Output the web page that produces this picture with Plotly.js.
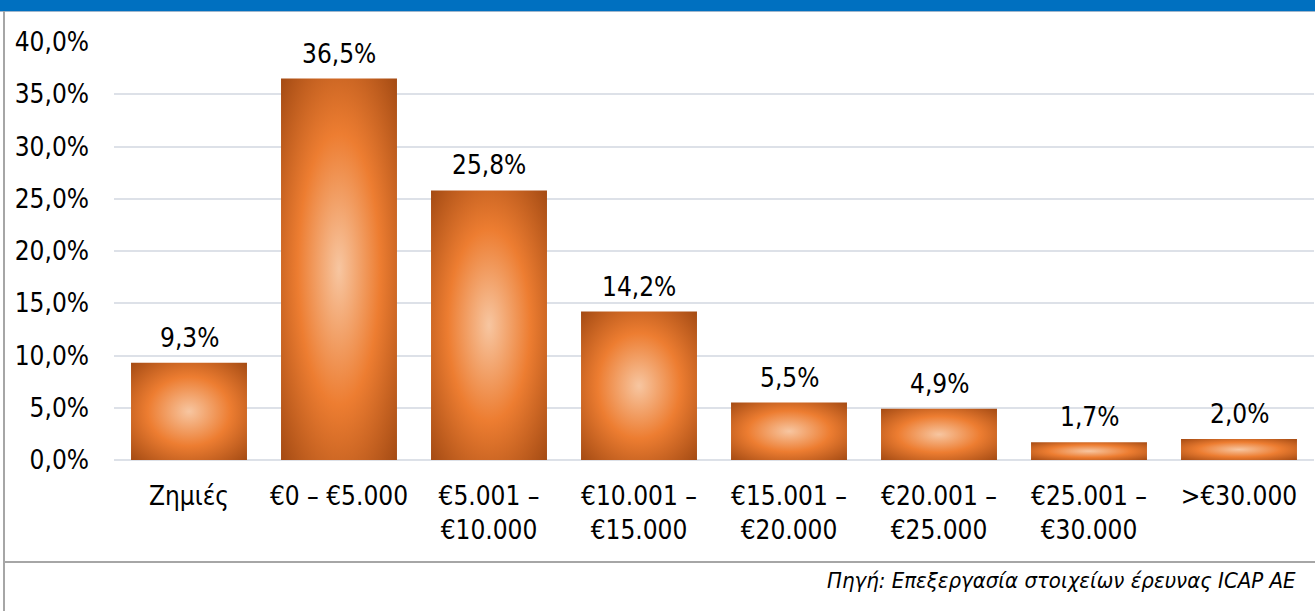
<!DOCTYPE html>
<html>
<head>
<meta charset="utf-8">
<script src="https://cdn.plot.ly/plotly-3.0.1.min.js"></script>
<style>
  html, body { margin: 0; padding: 0; background: #fff; }
  #wrap { position: relative; width: 1315px; height: 611px; overflow: hidden; }
  #chart { position: absolute; left: 0; top: 0; width: 1315px; height: 611px; }
  .deco { position: absolute; pointer-events: none; }
</style>
</head>
<body>
<div id="wrap">
  <div id="chart"></div>
  <div class="deco" style="left:0;top:0;width:1315px;height:11px;background:#0070C0;"></div>
  <div class="deco" style="left:0;top:11px;width:1315px;height:1px;background:#9FB6CC;"></div>
  <div class="deco" style="left:3px;top:11px;width:2px;height:600px;background:#A6A6A6;"></div>
  <div class="deco" style="left:3px;top:561px;width:1312px;height:2px;background:#A6A6A6;"></div>
</div>
<script>
// income bands (Greek labels as in the source)
var categories = [
  'Ζημιές',
  '€0 – €5.000',
  '€5.001 –<br>€10.000',
  '€10.001 –<br>€15.000',
  '€15.001 –<br>€20.000',
  '€20.001 –<br>€25.000',
  '€25.001 –<br>€30.000',
  '>€30.000'
];
var shares = [9.3, 36.5, 25.8, 14.2, 5.5, 4.9, 1.7, 2.0];
var yTicks = [0, 5, 10, 15, 20, 25, 30, 35, 40];
var yTickText = ['0,0%', '5,0%', '10,0%', '15,0%', '20,0%', '25,0%', '30,0%', '35,0%', '40,0%'];
var sourceNote = 'Πηγή: Επεξεργασία στοιχείων έρευνας ICAP AE';

var fontFamily = '"DejaVu Sans Condensed", "Noto Sans", "DejaVu Sans", sans-serif';

var labels = categories.map(function (c, i) {
  return {
    x: c,
    y: shares[i],
    xref: 'x',
    yref: 'y',
    text: shares[i].toFixed(1).replace('.', ',') + '%',
    showarrow: false,
    yanchor: 'bottom',
    yshift: 8,
    font: {family: fontFamily, size: 26, color: '#000'}
  };
});

labels.push({
  xref: 'paper',
  yref: 'paper',
  x: 0.9867,
  y: -0.288,
  xanchor: 'right',
  yanchor: 'middle',
  text: sourceNote,
  showarrow: false,
  font: {family: fontFamily, size: 22, color: '#000', style: 'italic'}
});

var data = [{
  type: 'bar',
  x: categories,
  y: shares,
  marker: {color: '#ED7D31', line: {width: 0}},
  hoverinfo: 'none'
}];

var layout = {
  width: 1315,
  height: 611,
  margin: {l: 114, r: 1, t: 42, b: 151, pad: 0},
  paper_bgcolor: 'rgba(0,0,0,0)',
  plot_bgcolor: 'rgba(0,0,0,0)',
  bargap: 0.227,
  showlegend: false,
  font: {family: fontFamily, size: 26, color: '#000'},
  xaxis: {
    type: 'category',
    showgrid: false,
    showline: false,
    zeroline: false,
    ticks: '',
    ticklabelstandoff: 18,
    tickfont: {family: fontFamily, size: 26, color: '#000'}
  },
  yaxis: {
    range: [0, 40],
    tickvals: yTicks,
    ticktext: yTickText,
    showgrid: true,
    gridcolor: '#DDE1E8',
    gridwidth: 2,
    zeroline: true,
    zerolinecolor: '#DDE1E8',
    zerolinewidth: 2,
    showline: false,
    ticks: '',
    ticklabelstandoff: 24,
    tickfont: {family: fontFamily, size: 26, color: '#000'}
  },
  annotations: labels
};

Plotly.newPlot('chart', data, layout, {staticPlot: true, displayModeBar: false}).then(function (gd) {
  // Excel-style radial fill: light centre, orange middle, dark corners
  var svg = gd.querySelector('svg.main-svg');
  var ns = 'http://www.w3.org/2000/svg';
  var defs = svg.querySelector('defs') || svg.insertBefore(document.createElementNS(ns, 'defs'), svg.firstChild);
  var grad = document.createElementNS(ns, 'radialGradient');
  grad.setAttribute('id', 'barGrad');
  grad.setAttribute('cx', '0.5');
  grad.setAttribute('cy', '0.5');
  grad.setAttribute('r', '0.71');
  var stops = [[0, '#F7C6A1'], [0.5, '#ED7D31'], [1, '#A34A13']];
  stops.forEach(function (s) {
    var st = document.createElementNS(ns, 'stop');
    st.setAttribute('offset', s[0]);
    st.setAttribute('stop-color', s[1]);
    grad.appendChild(st);
  });
  defs.appendChild(grad);
  gd.querySelectorAll('.bars .point path').forEach(function (p) {
    p.style.fill = 'url(#barGrad)';
  });
});
</script>
</body>
</html>
